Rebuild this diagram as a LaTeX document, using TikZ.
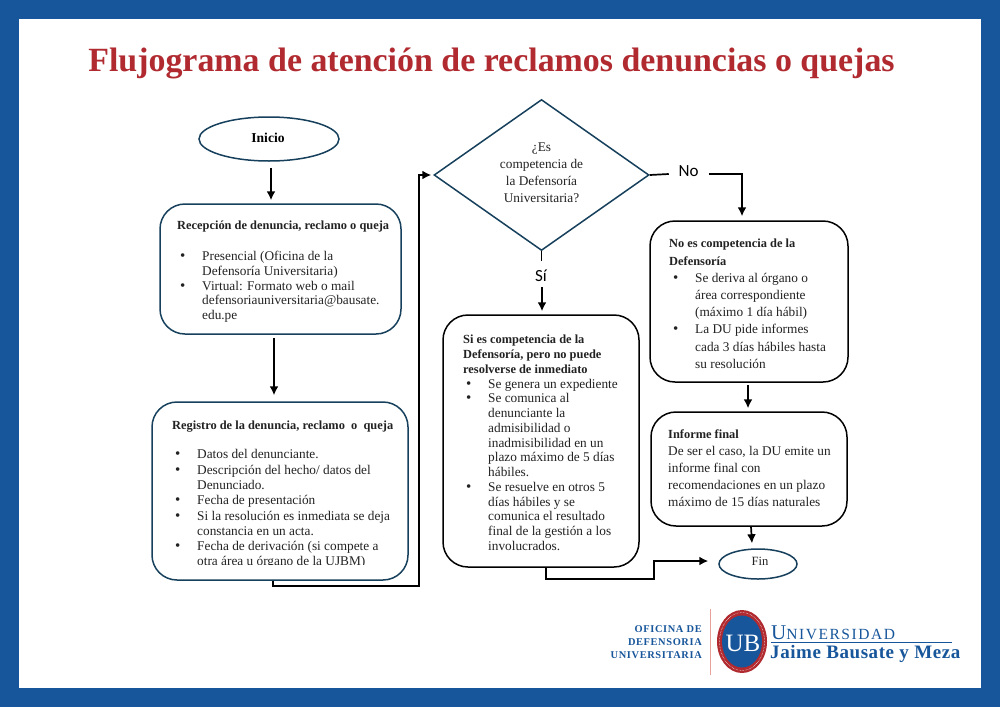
\documentclass[tikz,border=0pt]{standalone}
\usepackage{fontspec}
\setmainfont{Liberation Serif}
\newfontfamily\carlito{Carlito}
\usetikzlibrary{shapes.geometric,arrows.meta}
\definecolor{fondoazul}{HTML}{17569B}
\definecolor{tituloroj}{HTML}{B02A30}
\definecolor{bordeazul}{HTML}{17405C}
\definecolor{lineasal}{HTML}{E8A09A}
\definecolor{textogris}{HTML}{222222}
\newcommand{\itm}{\makebox[0pt][l]{\hspace{-22pt}\fontsize{15}{0}\selectfont\textbullet}}
\newcommand{\tit}[1]{{\fontsize{12.4}{0}\selectfont\bfseries #1}}
\begin{document}
\begin{tikzpicture}[x=1pt,y=-1pt,
	caja/.style={draw=bordeazul,line width=1.5pt,rounded corners=25pt,minimum width=#1},
	cajan/.style={draw=black,line width=1.5pt,rounded corners=25pt,minimum width=#1},
	texto/.style={anchor=north west,align=left,text=textogris,font=\fontsize{13.3}{#1}\selectfont},
	texto/.default=14.7,
	flecha/.style={draw=black,line width=1.7pt,-{Latex[length=9pt,width=9pt]}},
	linea/.style={draw=black,line width=1.7pt}]
	\tikzstyle{every node}+=[inner sep=0pt]
	\fill [fondoazul] (0,0) rectangle (1000,707);
	\fill [white] (19,19) rectangle (981,688);
	\node (titulo) at (491.5,63) {\fontsize{33.9}{36}\selectfont\bfseries\color{tituloroj}Flujograma de atención de reclamos denuncias o quejas};
	\node [draw=bordeazul,line width=1.5pt,ellipse,minimum width=140pt,minimum height=44pt] (inicio) at (269,139) {};
	\node [font=\fontsize{13.6}{14}\selectfont\bfseries] (iniciotxt) at (268,138) {Inicio};
	\node [caja=241pt,minimum height=130pt] (recepcion) at (280.5,269) {};
	\node [caja=256pt,minimum height=178pt] (registro) at (280,491) {};
	\node [draw=bordeazul,line width=1.5pt,diamond,minimum width=215pt,minimum height=151pt] (pregunta) at (541.5,175) {};
	\node [align=center,text=textogris,font=\fontsize{13.3}{17.1}\selectfont] (preguntatxt) at (541.5,173) {¿Es\\competencia de\\la Defensoría\\Universitaria?};
	\node [cajan=196pt,minimum height=252pt] (essi) at (541,441) {};
	\node [cajan=198pt,minimum height=161pt] (esno) at (749,301.5) {};
	\node [caja=196pt,minimum height=114pt,draw=black] (informe) at (749,469) {};
	\node [draw=bordeazul,line width=1.5pt,ellipse,minimum width=78pt,minimum height=30pt] (fin) at (758,564) {};
	\node [font=\fontsize{12.6}{14}\selectfont,text=textogris] (fintxt) at (760,561) {Fin};
	\node [texto] (recepciontxt) at (177,220.5) {\tit{Recepción de denuncia, reclamo o queja}\\[16.6pt]
	\hspace{25pt}\itm Presencial (Oficina de la\\
	\hspace{25pt}Defensoría Universitaria)\\
	\hspace{25pt}\itm Virtual: Formato web o mail\\
	\hspace{25pt}defensoriauniversitaria@bausate.\\
	\hspace{25pt}edu.pe};
	\begin{scope}
	\clip (160,410) rectangle (400,564);
	\node [texto=15.3] (registrotxt) at (172,421) {\tit{Registro de la denuncia, reclamo\ \ o\ \ queja}\\[13.7pt]
	\hspace{25pt}\itm Datos del denunciante.\\
	\hspace{25pt}\itm Descripción del hecho/ datos del\\
	\hspace{25pt}Denunciado.\\
	\hspace{25pt}\itm Fecha de presentación\\
	\hspace{25pt}\itm Si la resolución es inmediata se deja\\
	\hspace{25pt}constancia en un acta.\\
	\hspace{25pt}\itm Fecha de derivación (si compete a\\
	\hspace{25pt}otra área u órgano de la UJBM)};
	\end{scope}
	\node [texto=14.75] (essitxt) at (463,335) {\tit{Si es competencia de la}\\
	\tit{Defensoría, pero no puede}\\
	\tit{resolverse de inmediato}\\
	\hspace{25pt}\itm Se genera un expediente\\
	\hspace{25pt}\itm Se comunica al\\
	\hspace{25pt}denunciante la\\
	\hspace{25pt}admisibilidad o\\
	\hspace{25pt}inadmisibilidad en un\\
	\hspace{25pt}plazo máximo de 5 días\\
	\hspace{25pt}hábiles.\\
	\hspace{25pt}\itm Se resuelve en otros 5\\
	\hspace{25pt}días hábiles y se\\
	\hspace{25pt}comunica el resultado\\
	\hspace{25pt}final de la gestión a los\\
	\hspace{25pt}involucrados.};
	\node [texto=17.2] (esnotxt) at (669,239) {\tit{No es competencia de la}\\
	\tit{Defensoría}\\
	\hspace{26pt}\itm Se deriva al órgano o\\
	\hspace{26pt}área correspondiente\\
	\hspace{26pt}(máximo 1 día hábil)\\
	\hspace{26pt}\itm La DU pide informes\\
	\hspace{26pt}cada 3 días hábiles hasta\\
	\hspace{26pt}su resolución};
	\node [texto=17] (informetxt) at (668,430) {\tit{Informe final}\\
	De ser el caso, la DU emite un\\
	informe final con\\
	recomendaciones en un plazo\\
	máximo de 15 días naturales};
	\node [font=\carlito\fontsize{17}{18}\selectfont] (si) at (541,276) {Sí};
	\node [font=\carlito\fontsize{17}{18}\selectfont] (no) at (688.5,171) {No};
	\coordinate (r1) at (419,586);
	\coordinate (r2) at (654,579);
	\draw [flecha] ([xshift=2pt,yshift=-6pt]inicio.south) -- ([xshift=-9.5pt,yshift=3pt]recepcion.north);
	\draw [flecha] ([xshift=-6.5pt,yshift=-3pt]recepcion.south) -- ([xshift=-6pt,yshift=6pt]registro.north);
	\draw [linea,-{Latex[length=9pt,width=9pt]}] ([xshift=-7pt]registro.south) |- (r1) |- ([xshift=-2pt]pregunta.west);
	\draw [linea] (pregunta.south) -- ++(0,10);
	\draw [flecha] (si.south) ++(1,5) -- ([xshift=1pt,yshift=3pt]essi.north);
	\draw [linea] (pregunta.east) -- ++(19,-1);
	\draw [flecha] (no.east) ++(10,3) -| ([xshift=-7pt,yshift=4pt]esno.north);
	\draw [flecha] ([xshift=-1pt,yshift=-2pt]esno.south) -- ([xshift=-1pt,yshift=3pt]informe.north);
	\draw [flecha] ([xshift=2pt]informe.south) -- ([xshift=-6pt,yshift=5pt]fin.north);
	\draw [linea,-{Latex[length=9pt,width=9pt]}] ([xshift=5pt]essi.south) |- (r2) |- ([xshift=-10pt,yshift=3pt]fin.west);
	\draw [lineasal,line width=1pt] (710,609) -- (710,675);
	\node [anchor=east,align=right,text=fondoazul,font=\fontsize{10.4}{13.2}\selectfont\bfseries\addfontfeatures{LetterSpace=6}] (oficina) at (702,642) {OFICINA DE\\DEFENSORIA\\UNIVERSITARIA};
	\node [ellipse,fill=tituloroj,minimum width=50pt,minimum height=63pt] (sello) at (742,641.5) {};
	\node [ellipse,draw=white,line width=0.5pt,densely dotted,minimum width=45pt,minimum height=58pt] (selloring) at (742,641.5) {};
	\node [ellipse,fill=fondoazul,minimum width=40pt,minimum height=52pt] (selloin) at (742,641.5) {};
	\node [text=white,font=\fontsize{25}{27}\selectfont] (ub) at (743,643) {UB};
	\node [anchor=west,text=fondoazul,font=\fontsize{15.5}{17}\selectfont\addfontfeatures{LetterSpace=10}] (univ) at (771,633) {{\fontsize{21}{22}\selectfont U}NIVERSIDAD};
	\node [anchor=west,text=fondoazul,font=\fontsize{19}{21}\selectfont\bfseries\addfontfeatures{LetterSpace=3}] (jaime) at (770,654) {Jaime Bausate y Meza};
	\draw [fondoazul,line width=1.2pt] (771,642.5) -- (952,642.5);
	\path [use as bounding box] (0,0) rectangle (1000,707);
	\end{tikzpicture}
\end{document}
